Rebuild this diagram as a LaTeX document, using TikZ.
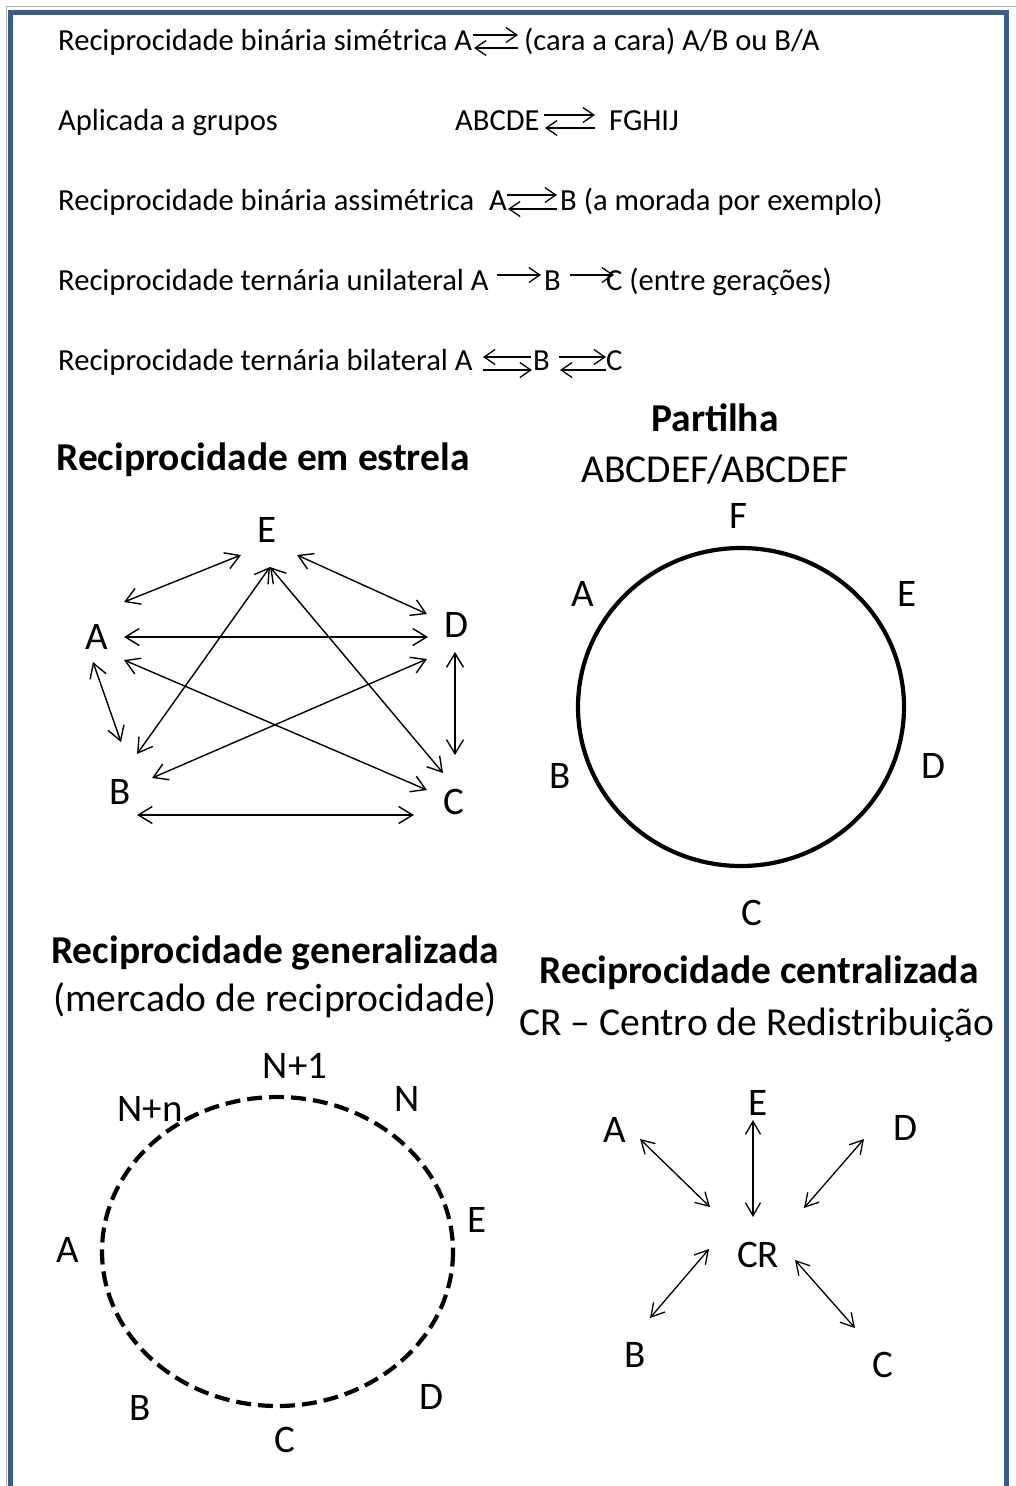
\documentclass[tikz,border=0pt]{standalone}
\usepackage{fontspec}
\setmainfont{Carlito}
\usetikzlibrary{arrows.meta}
\definecolor{frameblue}{RGB}{56,93,138}
\begin{document}
\begin{tikzpicture}[x=1pt,y=-1pt,
  txt/.style={inner sep=0pt, anchor=base west, font=\fontsize{30.6}{36}\selectfont},
  head/.style={inner sep=0pt, anchor=base, font=\fontsize{39.5}{44}\selectfont\bfseries},
  sub/.style={inner sep=0pt, anchor=base, font=\fontsize{39.6}{44}\selectfont},
  lab/.style={inner sep=0pt, font=\fontsize{39}{42}\selectfont},
  sarrow/.style={line width=1.3pt, -{Straight Barb[length=11pt,width=15pt]}},
  dbl/.style={line width=1.4pt, {Straight Barb[length=14pt,width=17pt]}-{Straight Barb[length=14pt,width=17pt]}},
  cdbl/.style={line width=1.3pt, {Straight Barb[length=13pt,width=15pt]}-{Straight Barb[length=13pt,width=15pt]}},
  ring/.style={line width=4.2pt}
]
\fill[white] (0,0) rectangle (1016,1486);
\useasboundingbox (0,0) rectangle (1016,1486);
% frame
\draw[gray!60, line width=1.2pt] (6.5,1486) -- (6.5,6.5) -- (1016,6.5);
\draw[frameblue, line width=5pt, line join=miter] (10.8,1492) -- (10.8,12) -- (1006,12) -- (1006,1492);

% ---- top lines
\node[txt] (l1a) at (58,50) {Reciprocidade binária simétrica A};
\coordinate (l1p) at (473,35); \coordinate (l1q) at (518,35);
\coordinate (l1r) at (518,48); \coordinate (l1s) at (474,48);
\draw[sarrow] (l1p) -- (l1q);
\draw[sarrow] (l1r) -- (l1s);
\node[txt] (l1b) at (524,50) {(cara a cara) A/B ou B/A};

\node[txt] (l2a) at (58,130) {Aplicada a grupos};
\node[txt] (l2b) at (455,130) {ABCDE};
\coordinate (l2p) at (544,115); \coordinate (l2q) at (595,115);
\coordinate (l2r) at (595,128); \coordinate (l2s) at (545,128);
\draw[sarrow] (l2p) -- (l2q);
\draw[sarrow] (l2r) -- (l2s);
\node[txt] (l2c) at (609,130) {FGHIJ};

\node[txt] (l3a) at (58,210) {Reciprocidade binária assimétrica};
\node[txt] (l3b) at (489,210) {A};
\coordinate (l3p) at (507,195); \coordinate (l3q) at (557,195);
\coordinate (l3r) at (557,209); \coordinate (l3s) at (508,209);
\draw[sarrow] (l3p) -- (l3q);
\draw[sarrow] (l3r) -- (l3s);
\node[txt] (l3c) at (560,210) {B (a morada por exemplo)};

\node[txt] (l4a) at (58,290) {Reciprocidade ternária unilateral A};
\coordinate (l4p) at (497,275); \coordinate (l4q) at (541,275);
\draw[sarrow] (l4p) -- (l4q);
\node[txt] (l4b) at (544,290) {B};
\coordinate (l4r) at (570,275); \coordinate (l4s) at (614,275);
\draw[sarrow] (l4r) -- (l4s);
\node[txt] (l4c) at (606,290) {C (entre gerações)};

\node[txt] (l5a) at (58,370) {Reciprocidade ternária bilateral A};
\coordinate (l5p) at (531,357); \coordinate (l5q) at (483,357);
\coordinate (l5r) at (483,370); \coordinate (l5s) at (532,370);
\draw[sarrow] (l5p) -- (l5q);
\draw[sarrow] (l5r) -- (l5s);
\node[txt] (l5b) at (533,370) {B};
\coordinate (l5t) at (559,357); \coordinate (l5u) at (606,357);
\coordinate (l5v) at (606,370); \coordinate (l5w) at (560,370);
\draw[sarrow] (l5t) -- (l5u);
\draw[sarrow] (l5v) -- (l5w);
\node[txt] (l5c) at (606,370) {C};

% ---- star
\node[head] (hstar) at (263,470) {Reciprocidade em estrela};
\node[lab] (sE) at (267,530) {E};
\node[lab] (sA) at (97,637) {A};
\node[lab] (sD) at (456,625) {D};
\node[lab] (sB) at (120,792) {B};
\node[lab] (sC) at (454,802) {C};
\coordinate (ae1) at (124,602); \coordinate (ae2) at (241,555);
\coordinate (ed1) at (297,555); \coordinate (ed2) at (427,614);
\coordinate (ad1) at (124,637); \coordinate (ad2) at (428,637);
\coordinate (ac1) at (124,660); \coordinate (ac2) at (427,790);
\coordinate (eb1) at (270,567); \coordinate (eb2) at (137,754);
\coordinate (ec1) at (270,567); \coordinate (ec2) at (443,773);
\coordinate (db1) at (427,659); \coordinate (db2) at (152,778);
\coordinate (ab1) at (93,662);  \coordinate (ab2) at (121,742);
\coordinate (dc1) at (455,652); \coordinate (dc2) at (455,755);
\coordinate (bc1) at (137,815); \coordinate (bc2) at (414,815);
\foreach \p in {ae,ed,ad,ac,eb,ec,db,ab,dc,bc} {\draw[dbl] (\p1) -- (\p2);}

% ---- partilha
\node[head] (hpart) at (715,431) {Partilha};
\node[sub] (spart) at (715,482) {ABCDEF/ABCDEF};
\draw[ring] (741,707) ellipse [x radius=163, y radius=159];
\node[lab] (pF) at (738,516) {F};
\node[lab] (pA) at (583,594) {A};
\node[lab] (pE) at (907,594) {E};
\node[lab] (pB) at (560,776) {B};
\node[lab] (pD) at (933,766) {D};
\node[lab] (pC) at (752,913) {C};

% ---- generalizada
\node[head] (hgen) at (275,963) {Reciprocidade generalizada};
\node[sub] (sgen) at (275,1011) {(mercado de reciprocidade)};
\draw[ring, dash pattern=on 15pt off 7pt] (277.5,1251.5) ellipse [x radius=175.5, y radius=154.5];
\node[lab] (g1) at (295,1066) {N+1};
\node[lab] (gn) at (150,1109) {N+n};
\node[lab] (gN) at (407,1099) {N};
\node[lab] (gE) at (477,1220) {E};
\node[lab] (gA) at (68,1250) {A};
\node[lab] (gB) at (140,1408) {B};
\node[lab] (gC) at (285,1440) {C};
\node[lab] (gD) at (431,1397) {D};

% ---- centralizada
\node[head] (hcen) at (759,983) {Reciprocidade centralizada};
\node[sub] (scen) at (757,1035) {CR -- Centro de Redistribuição};
\node[lab] (cE) at (758,1103) {E};
\node[lab] (cA) at (615,1130) {A};
\node[lab] (cD) at (905,1128) {D};
\node[lab] (cCR) at (758,1255) {CR};
\node[lab] (cB) at (635,1355) {B};
\node[lab] (cC) at (883,1365) {C};
\coordinate (ca1) at (640,1139); \coordinate (ca2) at (710,1207);
\coordinate (ce1) at (753,1120); \coordinate (ce2) at (753,1217);
\coordinate (cd1) at (864,1139); \coordinate (cd2) at (804,1208);
\coordinate (cb1) at (709,1249); \coordinate (cb2) at (650,1318);
\coordinate (cc1) at (795,1260); \coordinate (cc2) at (855,1328);
\foreach \p in {ca,ce,cd,cb,cc} {\draw[cdbl] (\p1) -- (\p2);}
\end{tikzpicture}
\end{document}
